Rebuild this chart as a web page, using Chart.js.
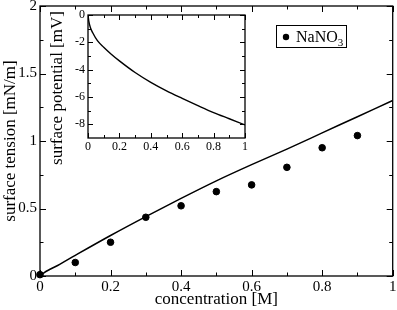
<!DOCTYPE html>
<html>
<head>
<meta charset="utf-8">
<script src="https://cdn.jsdelivr.net/npm/chart.js@4/dist/chart.umd.min.js"></script>
<style>
  html, body { margin: 0; padding: 0; background: #fff; }
  #wrap { position: relative; width: 397px; height: 310px; }
  #mainChart { position: absolute; left: 0; top: 0; }
  #insetChart { position: absolute; left: 48px; top: 10px; }
</style>
</head>
<body>
<div id="wrap">
  <canvas id="mainChart" width="397" height="310"></canvas>
  <canvas id="insetChart" width="201" height="160"></canvas>
</div>
<script>
const FONT = "'Liberation Serif', 'Times New Roman', serif";

// measured points (NaNO3)
const expConc = [0, 0.1, 0.2, 0.3, 0.4, 0.5, 0.6, 0.7, 0.8, 0.9];
const expTension = [0.01, 0.10, 0.25, 0.435, 0.52, 0.625, 0.675, 0.805, 0.95, 1.04];

// theory curve, main panel
const fitConc = [0, 0.01, 0.03, 0.05, 0.1, 0.2, 0.3, 0.4, 0.5, 0.6, 0.7, 0.8, 0.9, 1.0];
const fitTension = [0, 0.022, 0.052, 0.078, 0.153, 0.30, 0.44, 0.575, 0.705, 0.825, 0.94, 1.06, 1.18, 1.30];

// inset: surface potential
const insetConc = [0, 0.005, 0.015, 0.03, 0.06, 0.1, 0.15, 0.2, 0.3, 0.4, 0.5, 0.6, 0.7, 0.8, 0.9, 1.0];
const insetPot = [0, -0.45, -0.92, -1.3, -1.88, -2.36, -2.89, -3.36, -4.21, -4.93, -5.55, -6.1, -6.63, -7.14, -7.59, -8.04];

// tick labels
const mainXTicks = [0, 0.2, 0.4, 0.6, 0.8, 1];
const mainYTicks = [0, 0.5, 1, 1.5, 2];
const insetXTicks = [0, 0.2, 0.4, 0.6, 0.8, 1];
const insetYTicks = [-8, -6, -4, -2, 0];

const pts = (xs, ys) => xs.map((x, i) => ({ x: x, y: ys[i] }));

// frame + inward ticks on all four sides (xmgrace look)
const frameTicks = {
    id: 'frameTicks',
    beforeDatasetsDraw(chart, args, opts) {
        const { ctx, chartArea: a, scales: { x, y } } = chart;
        const xv = x.ticks.map(t => t.value);
        const yv = y.ticks.map(t => t.value);
        const mids = v => v.slice(1).map((t, i) => (t + v[i]) / 2);
        ctx.save();
        ctx.strokeStyle = '#000';
        ctx.lineWidth = 1;
        ctx.beginPath();
        const tx = (vals, len) => vals.forEach(v => {
            const p = Math.round(x.getPixelForValue(v)) + 0.5;
            ctx.moveTo(p, a.bottom); ctx.lineTo(p, a.bottom - len);
            ctx.moveTo(p, a.top); ctx.lineTo(p, a.top + len);
        });
        const ty = (vals, len) => vals.forEach(v => {
            const p = Math.round(y.getPixelForValue(v)) + 0.5;
            ctx.moveTo(a.left, p); ctx.lineTo(a.left + len, p);
            ctx.moveTo(a.right, p); ctx.lineTo(a.right - len, p);
        });
        tx(xv, opts.major); tx(mids(xv), opts.minor);
        ty(yv, opts.major); ty(mids(yv), opts.minor);
        ctx.stroke();
        ctx.lineWidth = 1.3;
        ctx.strokeRect(a.left, a.top, a.width, a.height);
        ctx.restore();
    }
};

const whiteArea = {
    id: 'whiteArea',
    beforeDraw(chart) {
        const { ctx, chartArea: a } = chart;
        ctx.save();
        ctx.fillStyle = '#fff';
        ctx.fillRect(a.left, a.top, a.width, a.height);
        ctx.restore();
    }
};

// rotated y title placed lower than chart.js would centre it (as in the original)
const sideTitle = {
    id: 'sideTitle',
    afterDraw(chart, args, opts) {
        const ctx = chart.ctx;
        ctx.save();
        ctx.translate(opts.x, opts.y);
        ctx.rotate(-Math.PI / 2);
        ctx.font = opts.size + 'px ' + FONT;
        ctx.fillStyle = '#000';
        ctx.textAlign = 'center';
        ctx.textBaseline = 'middle';
        ctx.fillText(opts.text, 0, 0);
        ctx.restore();
    }
};

// boxed legend with subscript digits
const boxLegend = {
    id: 'boxLegend',
    afterDraw(chart, args, opts) {
        const ctx = chart.ctx;
        const ds = chart.data.datasets[opts.index];
        const bx = opts.x, by = opts.y, bw = opts.w, bh = opts.h;
        ctx.save();
        ctx.fillStyle = '#fff';
        ctx.fillRect(bx, by, bw, bh);
        ctx.strokeStyle = '#000';
        ctx.lineWidth = 1;
        ctx.strokeRect(bx + 0.5, by + 0.5, bw, bh);
        ctx.fillStyle = '#000';
        ctx.beginPath();
        ctx.arc(bx + 10, by + bh / 2 + 1, 3.2, 0, Math.PI * 2);
        ctx.fill();
        const m = ds.label.match(/^(.*?)(\d+)$/);
        ctx.font = '16px ' + FONT;
        ctx.textBaseline = 'alphabetic';
        const base = by + bh / 2 + 6;
        ctx.fillText(m[1], bx + 20, base);
        const w = ctx.measureText(m[1]).width;
        ctx.font = '11px ' + FONT;
        ctx.fillText(m[2], bx + 20 + w, base + 4);
        ctx.restore();
    }
};

const zeroPad = s => { s.paddingTop = 0; s.paddingBottom = 0; s.paddingLeft = 0; s.paddingRight = 0; };
const setTicks = vals => s => { s.ticks = vals.map(v => ({ value: v })); };

function axis(opts) {
    return {
        type: 'linear',
        min: opts.min,
        max: opts.max,
        afterBuildTicks: setTicks(opts.ticks),
        afterFit: s => {
            zeroPad(s);
            if (opts.width) s.width = opts.width;
            if (opts.height) s.height = opts.height;
        },
        grid: { display: false, drawTicks: false },
        border: { display: false },
        ticks: {
            color: '#000',
            font: { family: FONT, size: opts.tickSize },
            padding: opts.tickPad,
            maxRotation: 0,
            autoSkip: false,
            callback: v => String(v)
        },
        title: {
            display: !!opts.title,
            text: opts.title || '',
            color: '#000',
            font: { family: FONT, size: 17 },
            padding: 0
        }
    };
}

new Chart(document.getElementById('mainChart'), {
    type: 'scatter',
    data: {
        datasets: [{
            label: 'NaNO3',
            data: pts(expConc, expTension),
            backgroundColor: '#000',
            borderColor: '#000',
            pointRadius: 3.3,
            pointHoverRadius: 3.3,
            clip: false
        }, {
            label: 'theory',
            type: 'line',
            data: pts(fitConc, fitTension),
            borderColor: '#000',
            borderWidth: 1.5,
            pointRadius: 0,
            cubicInterpolationMode: 'monotone',
            fill: false
        }]
    },
    options: {
        responsive: false,
        animation: false,
        layout: { padding: { top: 6, right: 4, left: 0, bottom: 0 } },
        plugins: {
            legend: { display: false },
            tooltip: { enabled: false },
            frameTicks: { major: 6, minor: 3.5 },
            boxLegend: { index: 0, x: 276, y: 25, w: 70, h: 22 }
        },
        scales: {
            x: axis({ min: 0, max: 1, ticks: mainXTicks, height: 34, tickSize: 15, tickPad: 2, title: 'concentration [M]' }),
            y: axis({ min: 0, max: 2, ticks: mainYTicks, width: 40, tickSize: 15, tickPad: 3, title: 'surface tension [mN/m]' })
        }
    },
    plugins: [frameTicks, boxLegend]
});

new Chart(document.getElementById('insetChart'), {
    type: 'line',
    data: {
        datasets: [{
            label: 'potential',
            data: pts(insetConc, insetPot),
            borderColor: '#000',
            borderWidth: 1.4,
            pointRadius: 0,
            cubicInterpolationMode: 'monotone',
            fill: false
        }]
    },
    options: {
        responsive: false,
        animation: false,
        layout: { padding: { top: 5, right: 4, left: 0, bottom: 15 } },
        plugins: {
            legend: { display: false },
            tooltip: { enabled: false },
            frameTicks: { major: 5, minor: 3 },
            sideTitle: { text: 'surface potential [mV]', x: 10, y: 78, size: 17 }
        },
        scales: {
            x: axis({ min: 0, max: 1, ticks: insetXTicks, height: 17, tickSize: 12, tickPad: 2 }),
            y: axis({ min: -9, max: 0, ticks: insetYTicks, width: 40, tickSize: 12, tickPad: 3 })
        }
    },
    plugins: [whiteArea, frameTicks, sideTitle]
});
</script>
</body>
</html>
